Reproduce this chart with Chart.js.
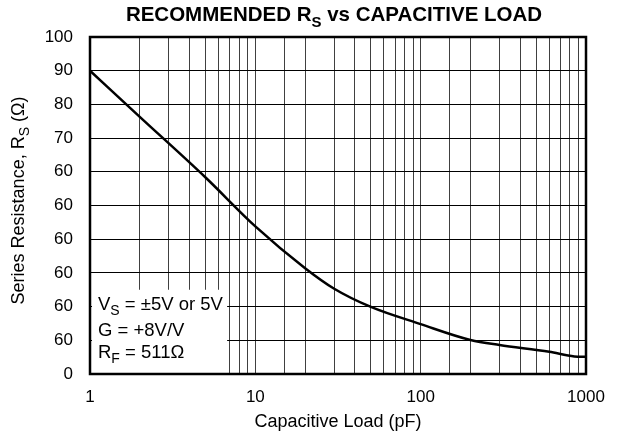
<!DOCTYPE html>
<html>
<head>
<meta charset="utf-8">
<script src="https://cdn.jsdelivr.net/npm/chart.js@4"></script>
<style>
  html, body { margin: 0; padding: 0; background: #fff; }
  #wrap { width: 618px; height: 440px; }
</style>
</head>
<body>
<div id="wrap"><canvas id="rsChart" width="618" height="440"></canvas></div>
<script>
// capacitive load (pF) and recommended series resistance (ohm)
const loadPF = [1, 2, 5, 10, 20, 30, 50, 100, 200, 300, 600, 850, 1000];
const seriesR = [90, 76.3, 58.3, 43.8, 31.4, 25.3, 19.9, 14.8, 10.1, 8.6, 6.6, 5.2, 5.1];

// y tick labels, bottom to top (as printed on the sheet)
const yTickLabels = ['0', '60', '60', '60', '60', '60', '60', '70', '80', '90', '100'];
const xTickLabels = { 1: '1', 10: '10', 100: '100', 1000: '1000' };

const FONT = '"Liberation Sans", Arial, Helvetica, sans-serif';

// draws a run of text pieces, some of them subscripted
function drawRich(ctx, parts, x, y, size, weight, align) {
  const subSize = Math.round(size * 0.75);
  let total = 0;
  const widths = parts.map(p => {
    ctx.font = weight + ' ' + (p.sub ? subSize : size) + 'px ' + FONT;
    const w = ctx.measureText(p.t).width;
    total += w;
    return w;
  });
  let cx = align === 'center' ? x - total / 2 : x;
  ctx.textBaseline = 'alphabetic';
  ctx.textAlign = 'left';
  parts.forEach((p, i) => {
    ctx.font = weight + ' ' + (p.sub ? subSize : size) + 'px ' + FONT;
    ctx.fillText(p.t, cx, p.sub ? y + size * 0.3 : y);
    cx += widths[i];
  });
}

const decorPlugin = {
  id: 'decor',
  beforeDatasetsDraw(chart) {
    const { ctx, scales: { x, y } } = chart;
    // white note box in the lower-left corner of the grid
    const left = x.getPixelForValue(1) + 2;
    const right = x.getPixelForValue(6.75);
    const top = y.getPixelForValue(25);
    const bottom = y.getPixelForValue(0);
    ctx.save();
    ctx.fillStyle = '#fff';
    ctx.fillRect(left, top, right - left, bottom - top);
    ctx.fillStyle = '#000';
    drawRich(ctx, [{ t: 'V' }, { t: 'S', sub: true }, { t: ' = \u00b15V or 5V' }], left + 6, top + 20, 18.5, 'normal');
    drawRich(ctx, [{ t: 'G = +8V/V' }], left + 6, top + 46, 18.5, 'normal');
    drawRich(ctx, [{ t: 'R' }, { t: 'F', sub: true }, { t: ' = 511\u03a9' }], left + 6, top + 68, 18.5, 'normal');
    ctx.restore();
  },
  afterDatasetsDraw(chart) {
    const { ctx, chartArea: a } = chart;
    ctx.save();
    // heavy plot frame
    ctx.strokeStyle = '#000';
    ctx.lineWidth = 2.5;
    ctx.strokeRect(a.left, a.top, a.right - a.left, a.bottom - a.top);
    ctx.fillStyle = '#000';
    // chart title
    drawRich(ctx, [{ t: 'RECOMMENDED R' }, { t: 'S', sub: true }, { t: ' vs CAPACITIVE LOAD' }],
      (a.left + a.right) / 2 - 4, 21, 20.5, 'bold', 'center');
    // y axis title, rotated
    ctx.translate(24, (a.top + a.bottom) / 2 - 5);
    ctx.rotate(-Math.PI / 2);
    drawRich(ctx, [{ t: 'Series Resistance, R' }, { t: 'S', sub: true }, { t: ' (\u03a9)' }], 0, 0, 18, 'normal', 'center');
    ctx.restore();
  }
};

new Chart(document.getElementById('rsChart'), {
  type: 'line',
  data: {
    datasets: [{
      data: loadPF.map((c, i) => ({ x: c, y: seriesR[i] })),
      borderColor: '#000',
      borderWidth: 2.5,
      pointRadius: 0,
      fill: false,
      cubicInterpolationMode: 'monotone'
    }]
  },
  options: {
    responsive: false,
    animation: false,
    layout: { padding: { top: 37, right: 32, left: 0, bottom: 0 } },
    plugins: {
      legend: { display: false },
      tooltip: { enabled: false }
    },
    scales: {
      x: {
        type: 'logarithmic',
        min: 1,
        max: 1000,
        afterFit(scale) { scale.height = 66; },
        grid: { color: 'rgba(0,0,0,0.75)', lineWidth: 1, drawTicks: false },
        border: { display: false },
        ticks: {
          color: '#000',
          font: { family: FONT, size: 17 },
          padding: 13,
          autoSkip: false,
          maxRotation: 0,
          callback: v => xTickLabels[v] || ''
        },
        title: {
          display: true,
          text: 'Capacitive Load (pF)',
          color: '#000',
          font: { family: FONT, size: 18 },
          padding: { top: 0, bottom: 7 }
        }
      },
      y: {
        min: 0,
        max: 100,
        afterFit(scale) { scale.width = 90; },
        grid: { color: '#000', lineWidth: 1, drawTicks: false },
        border: { display: false },
        ticks: {
          stepSize: 10,
          color: '#000',
          font: { family: FONT, size: 17 },
          padding: 17,
          callback: (v, i) => yTickLabels[i]
        }
      }
    }
  },
  plugins: [decorPlugin]
});
</script>
</body>
</html>
